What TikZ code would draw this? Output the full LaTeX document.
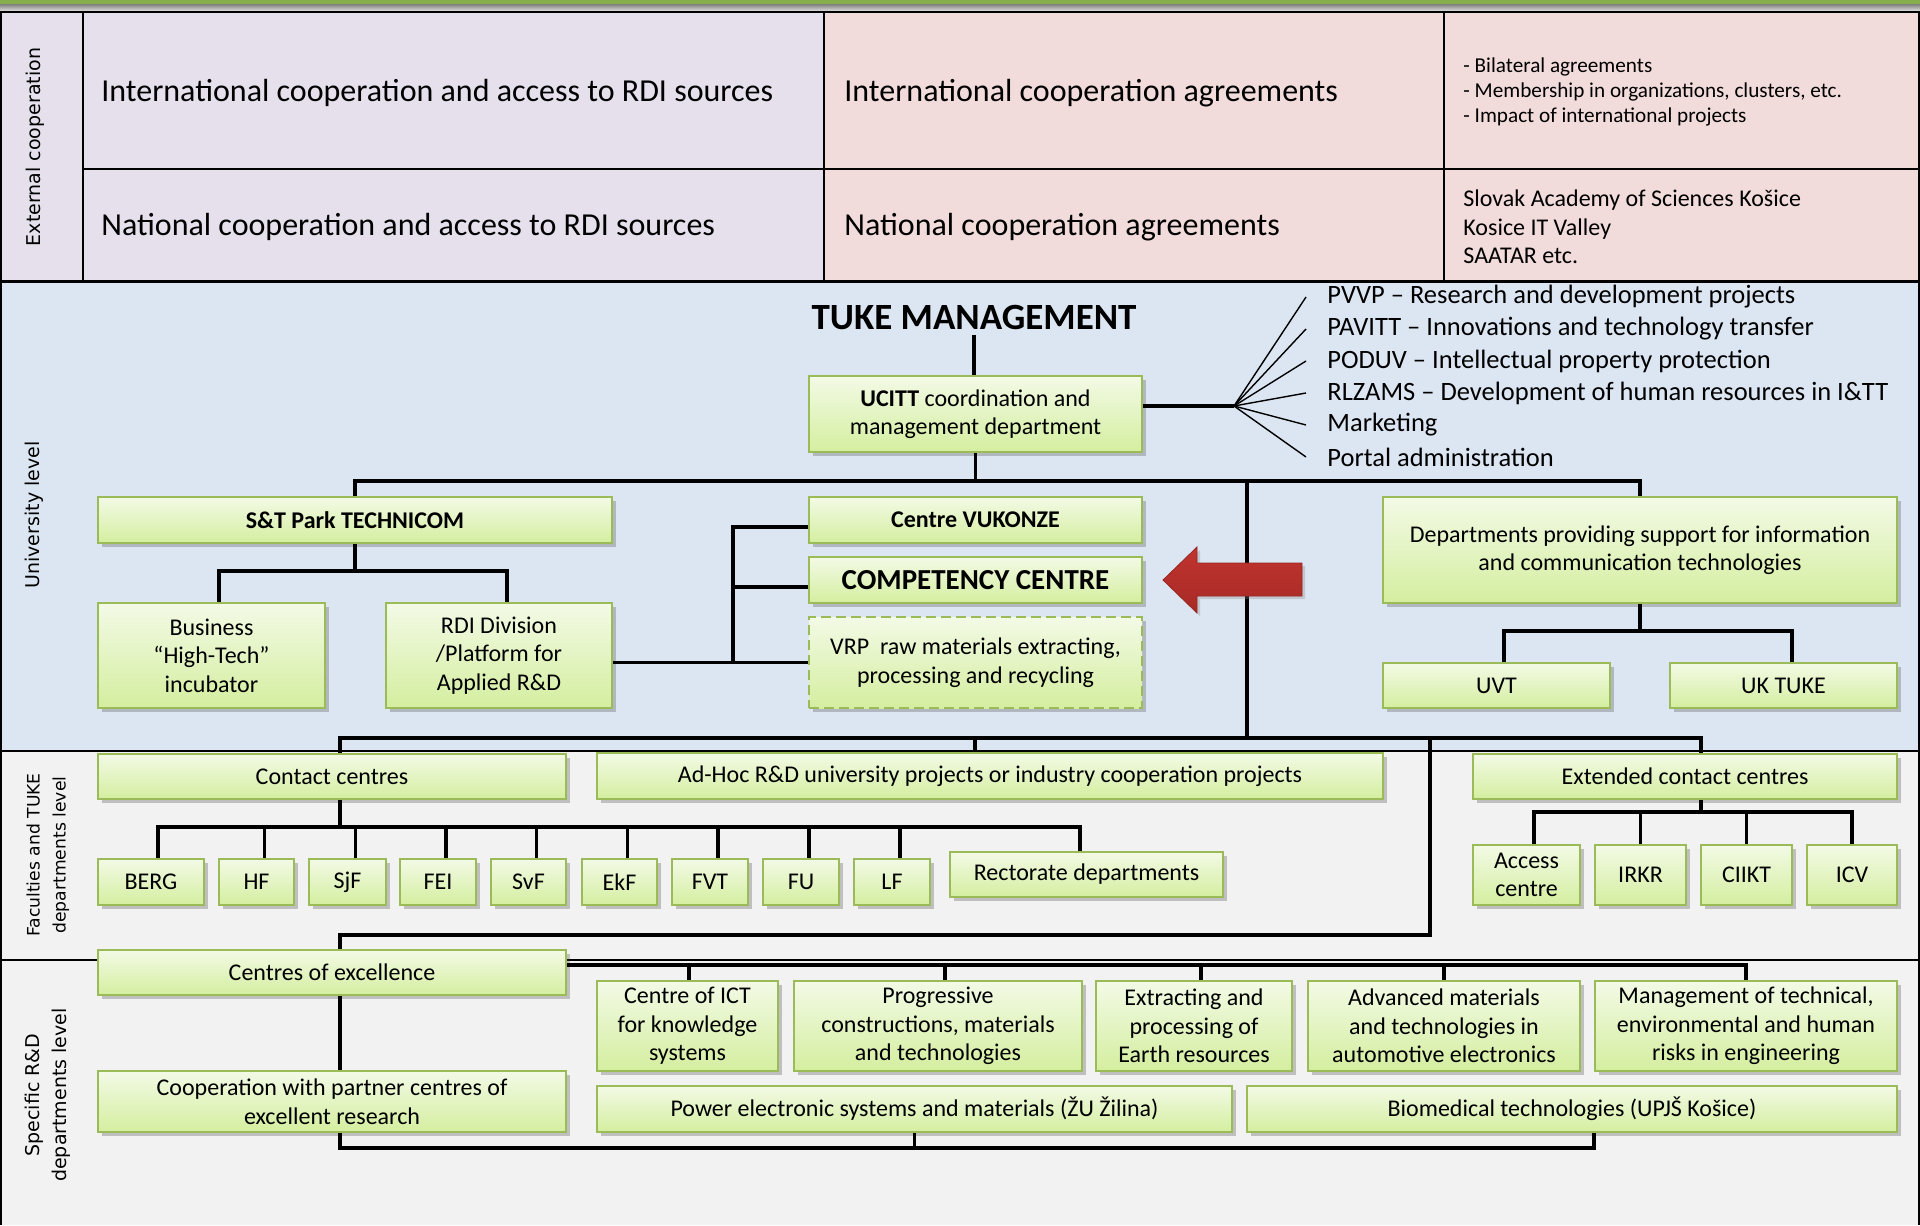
\documentclass[tikz,border=0pt]{standalone}
\usepackage{fontspec}
\setmainfont{Carlito}
\newfontfamily\vlabfont{DejaVu Sans}
\usetikzlibrary{shadows}
\definecolor{gtop}{HTML}{F3FAE6}
\definecolor{gbot}{HTML}{D4EE9F}
\definecolor{gborder}{HTML}{9BBB59}
\definecolor{lav}{HTML}{E5E0EC}
\definecolor{pinkc}{HTML}{F2DCDB}
\definecolor{unibg}{HTML}{DCE6F2}
\definecolor{greybg}{HTML}{F2F2F2}
\definecolor{topgreen}{HTML}{86B04E}
\definecolor{arrA}{HTML}{C0342F}
\definecolor{arrB}{HTML}{E5504A}
\definecolor{arrC}{HTML}{A82A26}
\newcommand\myfs[2]{\fontsize{#1}{#2}\selectfont}
\begin{document}
\begin{tikzpicture}[x=0.5pt,y=-0.5pt,
  gbox/.style={draw=gborder, line width=1.1pt, top color=gtop, bottom color=gbot,
    drop shadow={shadow xshift=1.8pt, shadow yshift=-1.8pt, opacity=0.3, fill=black!70},
    align=center, inner sep=1pt, text=black, font=\myfs{12}{14.25}},
  wh/.style 2 args={minimum width=#1*0.5pt, minimum height=#2*0.5pt},
  conn/.style={line width=1.8pt, black},
  fan/.style={line width=0.7pt, black},
  tbl/.style={line width=1.1pt, black},
  sec/.style={line width=1.5pt, black},
  bigtxt/.style={anchor=west, inner sep=0pt, font=\myfs{16}{19}},
  fantxt/.style={anchor=west, inner sep=0pt, font=\myfs{13.25}{16}},
  vlab/.style={rotate=90, inner sep=0pt, align=center}]
\useasboundingbox (0,0) rectangle (1920,1225);

% ---------- backgrounds ----------
\fill[topgreen] (0,0) rectangle (1920,5);
\shade[top color=black!45, bottom color=black!8] (0,5) rectangle (1920,12);
\fill[lav] (0,12) rectangle (824,281);
\fill[pinkc] (824,12) rectangle (1920,281);
\fill[unibg] (0,281) rectangle (1920,751);
\fill[greybg] (0,751) rectangle (1920,1225);

\draw[tbl] (0,12) -- (1920,12);
\draw[tbl] (83,12) -- (83,281);
\draw[tbl] (824,12) -- (824,281);
\draw[tbl] (1444,12) -- (1444,281);
\draw[tbl] (83,169) -- (1920,169);
\draw[sec] (0,281) -- (1920,281);
\draw[tbl] (0,751) -- (1920,751);
\draw[tbl] (0,960) -- (1920,960);
\draw[tbl] (1,12) -- (1,1225);
\draw[tbl] (1919,12) -- (1919,1225);

% ---------- side labels ----------
\node[vlab, font=\vlabfont\myfs{9.5}{13}] (lext) at (35,147) {External cooperation};
\node[vlab, font=\vlabfont\myfs{9.5}{13}] (luni) at (34,515) {University level};
\node[vlab, font=\vlabfont\myfs{8.6}{13}] (lfac) at (48,855) {Faculties and TUKE\\departments level};
\node[vlab, font=\vlabfont\myfs{9.5}{13.5}] (lspec) at (48,1095) {Specific R\&D\\departments level};

% ---------- external cooperation ----------
\node[bigtxt] (intl) at (101,93) {International cooperation and access to RDI sources};
\node[bigtxt] (natl) at (101,227) {National cooperation and access to RDI sources};
\node[bigtxt] (intlag) at (844,93) {International cooperation agreements};
\node[bigtxt] (natlag) at (844,227) {National cooperation agreements};
\node[anchor=west, inner sep=0pt, align=left, font=\myfs{10.6}{12.5}] (bil) at (1463,92)
  {- Bilateral agreements\\- Membership in organizations, clusters, etc.\\- Impact of international projects};
\node[anchor=west, inner sep=0pt, align=left, font=\myfs{12}{14.25}] (svk) at (1463,227)
  {Slovak Academy of Sciences Košice\\Kosice IT Valley\\SAATAR etc.};

% ---------- university level ----------
\node[inner sep=2pt, font=\myfs{18.5}{20}\bfseries] (tuke) at (974,318) {TUKE MANAGEMENT};
\node[gbox, wh={333}{76}] (ucitt) at (975.5,414) {\textbf{UCITT} coordination and\\management department};
\node[gbox, wh={514}{46}, font=\myfs{12}{14}\bfseries] (technicom) at (355,520) {S\&T Park TECHNICOM};
\node[gbox, wh={227}{105}] (business) at (211.5,655.5) {Business\\“High-Tech”\\incubator};
\node[gbox, wh={226}{105}] (rdi) at (499,655.5) {RDI Division\\/Platform for\\Applied R\&D};
\node[gbox, wh={333}{46}, font=\myfs{12}{14}\bfseries] (vukonze) at (975.5,520) {Centre VUKONZE};
\node[gbox, wh={333}{46}, font=\myfs{14.5}{16}\bfseries] (competency) at (975.5,580) {COMPETENCY CENTRE};
\node[gbox, wh={333}{91}, dash pattern=on 5pt off 2.5pt] (vrp) at (975.5,662.5) {VRP~~raw materials extracting,\\processing and recycling};
\node[gbox, wh={514}{106}] (depts) at (1640,550) {Departments providing support for information\\and communication technologies};
\node[gbox, wh={227}{45}] (uvt) at (1496.5,685.5) {UVT};
\node[gbox, wh={227}{45}] (uktuke) at (1783.5,685.5) {UK TUKE};

\node[fantxt] (f1) at (1327,297) {PVVP -- Research and development projects};
\node[fantxt] (f2) at (1327,329) {PAVITT -- Innovations and technology transfer};
\node[fantxt] (f3) at (1327,361) {PODUV -- Intellectual property protection};
\node[fantxt] (f4) at (1327,393) {RLZAMS -- Development of human resources in I\&TT};
\node[fantxt] (f5) at (1327,425) {Marketing};
\node[fantxt] (f6) at (1327,457) {Portal administration};

% ---------- faculties level ----------
\node[gbox, wh={468}{45}] (contact) at (332,776.5) {Contact centres};
\node[gbox, wh={786}{46}] (adhoc) at (990,776) {Ad-Hoc R\&D university projects or industry cooperation projects};
\node[gbox, wh={424}{45}] (extended) at (1685,776.5) {Extended contact centres};
\node[gbox, wh={106}{46}] (berg) at (151,882) {BERG};
\node[gbox, wh={75}{46}] (hf) at (256.5,882) {HF};
\node[gbox, wh={77}{46}] (sjf) at (347.5,882) {SjF};
\node[gbox, wh={76}{46}] (fei) at (438,882) {FEI};
\node[gbox, wh={75}{46}] (svf) at (528.5,882) {SvF};
\node[gbox, wh={75}{46}] (ekf) at (619.5,882) {EkF};
\node[gbox, wh={76}{46}] (fvt) at (710,882) {FVT};
\node[gbox, wh={76}{46}] (fu) at (801,882) {FU};
\node[gbox, wh={76}{46}] (lf) at (892,882) {LF};
\node[gbox, wh={273}{45}] (rector) at (1086.5,874.5) {Rectorate departments};
\node[gbox, wh={107}{60}] (access) at (1526.5,875) {Access\\centre};
\node[gbox, wh={91}{60}] (irkr) at (1640.5,875) {IRKR};
\node[gbox, wh={91}{60}] (ciikt) at (1746.5,875) {CIIKT};
\node[gbox, wh={90}{60}] (icv) at (1852,875) {ICV};

% ---------- specific R&D level ----------
\node[gbox, wh={468}{45}] (excel) at (332,972.5) {Centres of excellence};
\node[gbox, wh={468}{61}] (coop) at (332,1101.5) {Cooperation with partner centres of\\excellent research};
\node[gbox, wh={181}{90}] (ict) at (687.5,1026) {Centre of ICT\\for knowledge\\systems};
\node[gbox, wh={288}{90}] (progr) at (938,1026) {Progressive\\constructions, materials\\and technologies};
\node[gbox, wh={196}{90}] (extr) at (1194,1026) {Extracting and\\processing of\\Earth resources};
\node[gbox, wh={272}{90}] (adv) at (1444,1026) {Advanced materials\\and technologies in\\automotive electronics};
\node[gbox, wh={302}{90}] (mgmt) at (1746,1026) {Management of technical,\\environmental and human\\risks in engineering};
\node[gbox, wh={635}{46}] (power) at (914.5,1109) {Power electronic systems and materials (ŽU Žilina)};
\node[gbox, wh={650}{46}] (biomed) at (1572,1109) {Biomedical technologies (UPJŠ Košice)};

% ---------- connectors ----------
\coordinate (j1) at (1247,482);
\coordinate (j2) at (1247,738);
\coordinate (j3) at (1430,738);
\coordinate (hub) at (1234,406);
\coordinate (k) at (733,662.5);

\draw[conn] (tuke.south) -- (tuke.south |- ucitt.north);
\draw[conn] (ucitt.south) -- ++(0,30);
\draw[conn] (technicom.north) -- ++(0,-15) -| (depts.north);
\draw[conn] (j1) -- (j2);
\draw[conn] ([yshift=4pt]ucitt.east) -- (hub);
\foreach \i in {1,...,6} \draw[fan] (hub) -- ([xshift=-10.5pt]f\i.west);

\draw[conn] (technicom.south) -- ++(0,29);
\draw[conn] ([xshift=3.75pt]business.north) -- ++(0,-31) -| ([xshift=4pt]rdi.north);
\draw[conn] ([yshift=-3.5pt]rdi.east) -- (k) -- (vrp.west);
\draw[conn] (k) |- ([yshift=-3.5pt]vukonze.west);
\draw[conn] ([yshift=-3.5pt]competency.west) -- ++(-76,0);

\draw[conn] (depts.south) -- ++(0,29);
\draw[conn] ([xshift=3.75pt]uvt.north) -- ++(0,-31) -| ([xshift=4.25pt]uktuke.north);

\draw[conn] ([xshift=4pt]contact.north) |- (j2) -| ([xshift=8pt]extended.north);
\draw[conn] ([xshift=-7.5pt]adhoc.north) -- ++(0,-15);
\draw[conn] (j3) -- ++(0,197) -| ([xshift=4pt]excel.north);

\draw[conn] ([xshift=4pt]contact.south) -- ++(0,29);
\draw[conn] ([xshift=3.5pt]berg.north) -- ++(0,-31) -| ([xshift=-3.25pt]rector.north);
\foreach \n in {hf,sjf,fei,svf,ekf,fvt,fu,lf} \draw[conn] ([xshift=4pt]\n.north) -- ++(0,-31);

\draw[conn] ([xshift=8pt]extended.south) -- ++(0,14);
\draw[conn] ([xshift=3.75pt]access.north) -- ++(0,-32) -| (icv.north);
\draw[conn] (irkr.north) -- ++(0,-32);
\draw[conn] (ciikt.north) -- ++(0,-32);

\draw[conn] ([yshift=3.75pt]excel.east) -| (mgmt.north);
\draw[conn] ([xshift=0.75pt]ict.north) -- ++(0,-16);
\draw[conn] ([xshift=3.5pt]progr.north) -- ++(0,-16);
\draw[conn] ([xshift=3.5pt]extr.north) -- ++(0,-16);
\draw[conn] (adv.north) -- ++(0,-16);

\draw[conn] ([xshift=4pt]excel.south) -- ([xshift=4pt]coop.north);
\draw[conn] ([xshift=4pt]coop.south) -- ++(0,15) -| ([xshift=11pt]biomed.south);
\draw[conn] (power.south) -- ++(0,15);

% ---------- red arrow ----------
\path[top color=arrA, middle color=arrB, bottom color=arrC, draw=arrC!90!black, line width=0.4pt,
  drop shadow={shadow xshift=1.5pt, shadow yshift=-1.5pt, opacity=0.3}]
  (1163,580) -- (1197,547) -- (1197,563) -- (1302,563) -- (1302,596) -- (1197,596) -- (1197,613) -- cycle;
\end{tikzpicture}
\end{document}
